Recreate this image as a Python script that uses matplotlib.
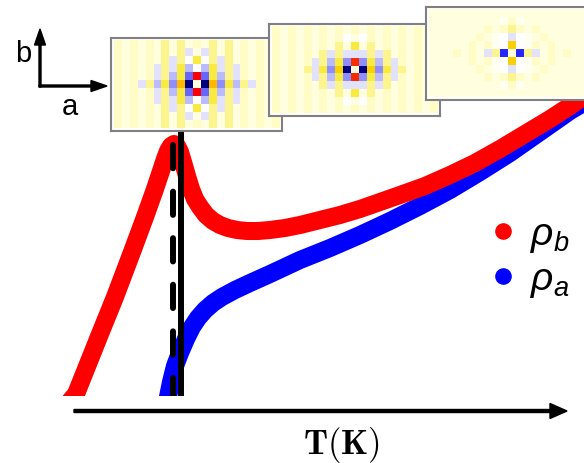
import numpy as np
import matplotlib
matplotlib.use("Agg")
import matplotlib.pyplot as plt
from matplotlib.patches import Rectangle

plt.rcParams['mathtext.fontset'] = 'custom'
plt.rcParams['mathtext.it'] = 'Liberation Sans:italic'
plt.rcParams['mathtext.rm'] = 'Liberation Sans'

# ---------------- data (schematic units: 1 unit = 1 pixel) ----------------
T_red = [66, 76, 90, 100, 115, 132, 145, 155, 161, 165, 168, 171, 174, 177,
         180, 183, 187, 191, 195, 200, 206, 213, 220, 228, 237, 247, 258, 270,
         285, 300, 320, 340, 360, 380, 400, 425, 450, 475, 500, 525, 550, 570,
         590]
rho_b = [57, 69, 104, 129, 166, 211, 246, 274, 292, 304, 312, 317, 319, 317,
         311, 301, 287, 274, 264, 256, 248, 242, 238, 235, 233, 232, 232, 233,
         235, 238, 243, 248, 254, 261, 268, 277, 288, 300, 314, 329, 344, 357,
         371]

T_blue = [165, 168, 171, 175, 180, 186, 192, 198, 205, 213, 222, 235, 250,
          270, 300, 330, 360, 390, 420, 450, 480, 510, 540, 570, 590]
rho_a = [52, 66, 81, 97, 110, 124, 136, 145, 153, 160, 166, 173, 180, 189,
         203, 215, 228, 242, 257, 273, 291, 310, 331, 352, 364]

T_c_solid = 181
T_c_dashed = 173

# heat-map insets (character codes -> colours)
cell_colors = {
    'N': (0.00, 0.00, 0.50), 'X': (0.15, 0.15, 1.00), 'B': (0.40, 0.40, 1.00),
    'b': (0.56, 0.56, 1.00), 'l': (0.73, 0.73, 1.00), 'L': (0.89, 0.89, 1.00),
    'w': (1.00, 1.00, 1.00), 'v': (1.00, 1.00, 0.95), 'p': (1.00, 1.00, 0.88),
    'q': (1.00, 0.99, 0.78), 'y': (0.99, 0.96, 0.55), 'Y': (0.98, 0.92, 0.25),
    'G': (0.98, 0.82, 0.00), 'O': (1.00, 0.72, 0.00), 'R': (1.00, 0.00, 0.00),
    'r': (0.97, 0.18, 0.00),
}

inset1_rows = [
    "qpqpqpypypqpypypqpqpq",
    "qpqpqpypyLpLypypqpqpq",
    "qpqpqpyLywYwyLypqpqpq",
    "qpqpqLyLYlwlYLyLqpqpq",
    "qpqpqLylYBRBYlyLqpqpq",
    "qpqLylYbONpNObYlyLqpq",
    "qpqpqLylYBRBYlyLqpqpq",
    "qpqpqLyLYlwlYLyLqpqpq",
    "qpqpqpyLywYwyLypqpqpq",
    "qpqpqpypyLpLypypqpqpq",
    "qpqpqpypypqpypypqpqpq",
]
inset2_rows = [
    "qpqpqpqpqpqpqpqpqpqpq",
    "qpqpqpqpqwpwqpqpqpqpq",
    "qpqpqpqpypYpypqpqpqpq",
    "qpqpqpyLyLLLyLypqpqpq",
    "qpqpqLylYbrbYlyLqpqpq",
    "qpqpyLYbGNpNGbYLypqpq",
    "qpqpqLylYbrbYlyLqpqpq",
    "qpqpqpyLyLLLyLypqpqpq",
    "qpqpqpqpypYpypqpqpqpq",
    "qpqpqpqpqwpwqpqpqpqpq",
    "qpqpqpqpqpqpqpqpqpqpq",
]
inset3_rows = [
    "ppppppppppppppppppppp",
    "pppppppppvqvppppppppp",
    "pppppppqpqyqpqppppppp",
    "ppppppqpvwLwvpqpppppp",
    "pppppqpqvwGwvqpqppppp",
    "pppqpqpLyXpXyLpqpqppp",
    "pppppqpqvwGwvqpqppppp",
    "ppppppqpvwLwvpqpppppp",
    "pppppppqpqyqpqppppppp",
    "pppppppppvqvppppppppp",
    "ppppppppppppppppppppp",
]

# ---------------- figure ----------------
W, H = 584, 464
fig = plt.figure(figsize=(W / 100, H / 100), dpi=100)
ax = fig.add_axes([0, 0, 1, 1])
ax.set_xlim(0, W)
ax.set_ylim(0, H)
ax.axis('off')

clip = Rectangle((0, 67), W, H - 67, transform=ax.transData)

lb, = ax.plot(T_blue, rho_a, color='#0000ff', lw=13, solid_joinstyle='round',
              solid_capstyle='round', zorder=2)
lr, = ax.plot(T_red, rho_b, color='#ff0000', lw=13, solid_joinstyle='round',
              solid_capstyle='round', zorder=3)
lb.set_clip_path(clip)
lr.set_clip_path(clip)

ls, = ax.plot([T_c_solid, T_c_solid], [60, 340], color='black', lw=4.3,
              solid_capstyle='butt', zorder=4)
ld, = ax.plot([T_c_dashed, T_c_dashed], [318, 60], color='black', lw=4.3,
              dashes=(3.9, 3.9), dash_capstyle='round', zorder=4)
ls.set_clip_path(clip)
ld.set_clip_path(clip)

# x axis arrow
ax.arrow(74, 52, 493, 0, width=3, head_width=15, head_length=17,
         length_includes_head=True, color='black', zorder=5)
ax.text(341, 10, r'$\mathbf{T(K)}$', math_fontfamily='cm', fontsize=25,
        ha='center', va='baseline')

# b / a axes
ax.arrow(40, 376, 0, 58, width=2, head_width=11, head_length=16,
         length_includes_head=True, color='black')
ax.arrow(39, 377, 68, 0, width=2, head_width=11, head_length=16,
         length_includes_head=True, color='black')
ax.text(23, 402, 'b', fontsize=21, family='Liberation Sans', ha='center',
        va='baseline')
ax.text(70, 349, 'a', fontsize=21, family='Liberation Sans', ha='center',
        va='baseline')

# legend
ax.scatter([503], [464 - 232], s=120, color='#ff0000', zorder=6)
ax.scatter([503], [464 - 277], s=120, color='#0000ff', zorder=6)
ax.text(530, 464 - 236, r'$\rho_b$', fontsize=28, ha='left', va='center')
ax.text(530, 464 - 281, r'$\rho_a$', fontsize=28, ha='left', va='center')


def add_inset(left, top, rows, w=171, h=93):
    iax = fig.add_axes([left / W, (H - top - h) / H, w / W, h / H])
    rgb = np.array([[cell_colors[c] for c in r] for r in rows])
    nr, nc = rgb.shape[0], rgb.shape[1]
    iax.imshow(rgb, extent=(-0.5, nc - 0.5, nr - 0.5, -0.5),
               interpolation='nearest', aspect='auto')
    iax.set_xlim(-0.85, nc - 0.15)
    iax.set_ylim(nr - 0.18, -0.82)
    iax.set_xticks([])
    iax.set_yticks([])
    iax.set_facecolor('white')
    for s in iax.spines.values():
        s.set_color('#808080')
        s.set_linewidth(1.5)
    return iax


add_inset(111, 39, inset1_rows)
add_inset(269, 25, inset2_rows, h=92)
add_inset(426, 8, inset3_rows)

fig.savefig('out.png', dpi=100)
